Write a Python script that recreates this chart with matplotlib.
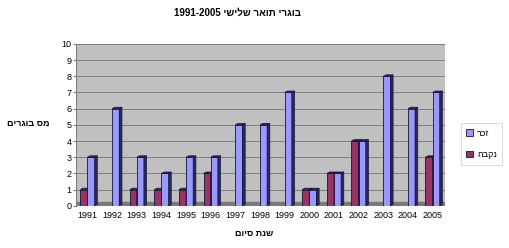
import numpy as np
import matplotlib.pyplot as plt
from matplotlib.patches import Polygon

years = ["1991", "1992", "1993", "1994", "1995", "1996", "1997", "1998",
         "1999", "2000", "2001", "2002", "2003", "2004", "2005"]
female = [1, 0, 1, 1, 1, 2, 0, 0, 0, 1, 2, 4, 0, 0, 3]
male = [3, 6, 3, 2, 3, 3, 5, 5, 7, 1, 2, 4, 8, 6, 7]

title_he = "בוגרי תואר שלישי"
ylabel_he = "מס בוגרים"
xlabel_he = "שנת סיום"
male_he = "זכר"
female_he = "נקבה"


def vis(s):
    # matplotlib has no bidi, so put hebrew in visual order
    return s[::-1]


plt.rcParams['font.family'] = ['Liberation Sans', 'DejaVu Sans']

fig = plt.figure(figsize=(5.09, 2.48), dpi=100)
ax = fig.add_axes([0.150, 0.170, 0.724, 0.653])
ax.set_facecolor('#c0c0c0')

x = np.arange(len(years))
w = 0.29
dx, dy = 0.11, 0.09

ax.axhspan(0, 0.22, color='#7a7a7a', zorder=1)
ax.set_axisbelow(True)
ax.yaxis.grid(True, color='#808080', lw=0.7)


def draw3d(pos, vals, face, side):
    bars = ax.bar(pos, vals, w, color=face, edgecolor='#15153a', lw=0.6, zorder=3)
    for b, v in zip(bars, vals):
        if v == 0:
            continue
        x0 = b.get_x()
        x1 = x0 + b.get_width()
        ax.add_patch(Polygon([(x1, 0), (x1 + dx, dy), (x1 + dx, v + dy), (x1, v)],
                             closed=True, fc=side, ec='#15153a', lw=0.5, zorder=3))
        ax.add_patch(Polygon([(x0, v), (x0 + dx, v + dy), (x1 + dx, v + dy), (x1, v)],
                             closed=True, fc=side, ec='#15153a', lw=0.5, zorder=3))
    return bars


bf = draw3d(x - w / 2, female, '#993366', '#4a1a35')
bm = draw3d(x + w / 2, male, '#9999ff', '#2a2a5a')

ax.set_xlim(-0.45, 14.5)
ax.set_ylim(0, 10)
ax.set_yticks(range(0, 11))
ax.set_xticks(x)
ax.set_xticklabels(years)
ax.tick_params(axis='y', labelsize=6.5, length=2, color='#808080', pad=1.5)
ax.tick_params(axis='x', labelsize=6.5, length=0, pad=4)
for s in ['top', 'right', 'bottom']:
    ax.spines[s].set_visible(False)
ax.spines['left'].set_color('#808080')

fig.text(0.466, 0.95, "1991-2005 " + vis(title_he), ha='center', va='center',
         fontsize=7, weight='bold')
fig.text(0.055, 0.5, vis(ylabel_he), ha='center', va='center', fontsize=6.5, weight='bold')
fig.text(0.50, 0.06, vis(xlabel_he), ha='center', va='center', fontsize=6.5, weight='bold')

leg = fig.legend([bm, bf], [vis(male_he), vis(female_he)], loc='center',
                 bbox_to_anchor=(0.946, 0.42), fontsize=6.5, frameon=True,
                 handlelength=0.8, handleheight=0.8, handletextpad=0.4,
                 labelspacing=1.4, borderpad=0.6, fancybox=False)
leg.get_frame().set_edgecolor('#c8c8c8')
leg.get_frame().set_linewidth(0.6)

fig.savefig("out.png", dpi=100)
